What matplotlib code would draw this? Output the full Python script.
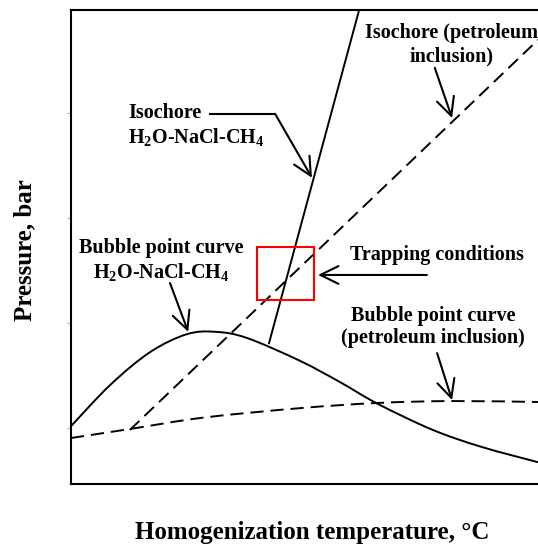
import numpy as np
import matplotlib
matplotlib.use("Agg")
import matplotlib.pyplot as plt
from matplotlib.patches import Rectangle, PathPatch
from matplotlib.path import Path

plt.rcParams['font.family'] = ['Liberation Serif', 'DejaVu Serif']
plt.rcParams['font.weight'] = 'bold'
plt.rcParams['mathtext.fontset'] = 'custom'
plt.rcParams['mathtext.rm'] = 'Liberation Serif:bold'
plt.rcParams['mathtext.bf'] = 'Liberation Serif:bold'
plt.rcParams['lines.scale_dashes'] = False

# bubble point curve, H2O-NaCl-CH4 (relative units)
bp_aq_t = [0, 8.4, 16.9, 24.8, 31.0, 37.7, 49.0, 57.6, 65.7, 77.5, 88.0, 100]
bp_aq_p = [12.2, 20.9, 27.8, 31.6, 32.1, 30.8, 26.0, 21.5, 16.9, 11.4, 7.8, 4.6]

# bubble point curve, petroleum inclusion
bp_oil_t = [0, 12.6, 28.3, 49.0, 65.7, 81.6, 100]
bp_oil_p = [9.7, 11.6, 14.0, 16.0, 17.1, 17.5, 17.3]

# isochores
iso_aq_t = [42.4, 61.7]
iso_aq_p = [29.7, 100]
iso_oil_t = [12.6, 100]
iso_oil_p = [11.4, 93.7]

# trapping conditions box: (t_min, t_max, p_min, p_max)
trap_box = (39.8, 52.0, 38.8, 50.0)


def smooth_path(x, y):
    # Catmull-Rom through the points, as cubic Bezier segments
    p = np.column_stack([x, y]).astype(float)
    ext = np.vstack([p[0], p, p[-1]])
    verts = [p[0]]
    codes = [Path.MOVETO]
    for i in range(1, len(ext) - 2):
        p0, p1, p2, p3 = ext[i - 1], ext[i], ext[i + 1], ext[i + 2]
        verts += [p1 + (p2 - p0) / 6, p2 - (p3 - p1) / 6, p2]
        codes += [Path.CURVE4] * 3
    return Path(verts, codes)


fig = plt.figure(figsize=(5.38, 5.48), dpi=100)
ax = fig.add_axes([71/538, 64/548, 467/538, 474/548])
ax.set_xlim(0, 100)
ax.set_ylim(0, 100)

lw = 1.4
dash = (9.5, 5)
ax.add_patch(PathPatch(smooth_path(bp_aq_t, bp_aq_p), fill=False,
                       edgecolor='black', lw=lw))
ax.add_patch(PathPatch(smooth_path(bp_oil_t, bp_oil_p), fill=False,
                       edgecolor='black', lw=lw, linestyle=(0, dash)))
ax.plot(iso_aq_t, iso_aq_p, color='black', lw=lw)
ax.plot(iso_oil_t, iso_oil_p, color='black', lw=lw, dashes=dash)

t0, t1, p0, p1 = trap_box
ax.add_patch(Rectangle((t0, p0), t1 - t0, p1 - p0, fill=False,
                       edgecolor='red', lw=1.5, zorder=5))

fs = 14.5
arrow = dict(arrowstyle='->,head_length=0.65,head_width=0.32',
             color='black', lw=1.5, mutation_scale=20, shrinkA=0, shrinkB=0)

# isochore H2O-NaCl-CH4 label with leader line
ax.text(12.2, 78.3, 'Isochore', fontsize=fs, ha='left', va='center')
ax.text(12.2, 73.0, r'H$_\mathregular{2}$O-NaCl-CH$_\mathregular{4}$',
        fontsize=fs, ha='left', va='center')
ax.plot([29.8, 43.7], [78.1, 78.1], color='black', lw=1.5)
ax.annotate('', xy=(51.6, 64.6), xytext=(43.7, 78.1), arrowprops=arrow)

# isochore petroleum label
ax.text(81.4, 95.1, 'Isochore (petroleum', fontsize=fs, ha='center', va='center')
ax.text(81.4, 90.1, 'inclusion)', fontsize=fs, ha='center', va='center')
ax.annotate('', xy=(81.6, 77.2), xytext=(77.9, 87.8), arrowprops=arrow)

# bubble point H2O-NaCl-CH4
ax.text(19.3, 49.8, 'Bubble point curve', fontsize=fs, ha='center', va='center')
ax.text(19.3, 44.6, r'H$_\mathregular{2}$O-NaCl-CH$_\mathregular{4}$',
        fontsize=fs, ha='center', va='center')
ax.annotate('', xy=(25.1, 32.1), xytext=(21.2, 42.4), arrowprops=arrow)

# trapping conditions
ax.text(59.7, 48.3, 'Trapping conditions', fontsize=fs, ha='left', va='center')
ax.annotate('', xy=(52.9, 44.1), xytext=(76.2, 44.1), arrowprops=arrow)

# bubble point petroleum
ax.text(77.5, 35.4, 'Bubble point curve', fontsize=fs, ha='center', va='center')
ax.text(77.5, 30.8, '(petroleum inclusion)', fontsize=fs, ha='center', va='center')
ax.annotate('', xy=(81.6, 17.7), xytext=(78.4, 27.6), arrowprops=arrow)

for s in ['left', 'bottom', 'top']:
    ax.spines[s].set_linewidth(1.5)
ax.spines['right'].set_visible(False)
ax.set_xticks([])
ax.set_yticks([11.8, 34.0, 56.1, 78.3])
ax.set_yticklabels([])
ax.tick_params(axis='y', direction='out', length=3, width=0.6, color='0.6')

fig.text(312/538, 1 - 532/548, 'Homogenization temperature, \u00b0C',
         fontsize=18, ha='center', va='center')
fig.text(25/538, 1 - 250/548, 'Pressure, bar', fontsize=18,
         rotation=90, ha='center', va='center')

fig.savefig('out.png', dpi=100)
